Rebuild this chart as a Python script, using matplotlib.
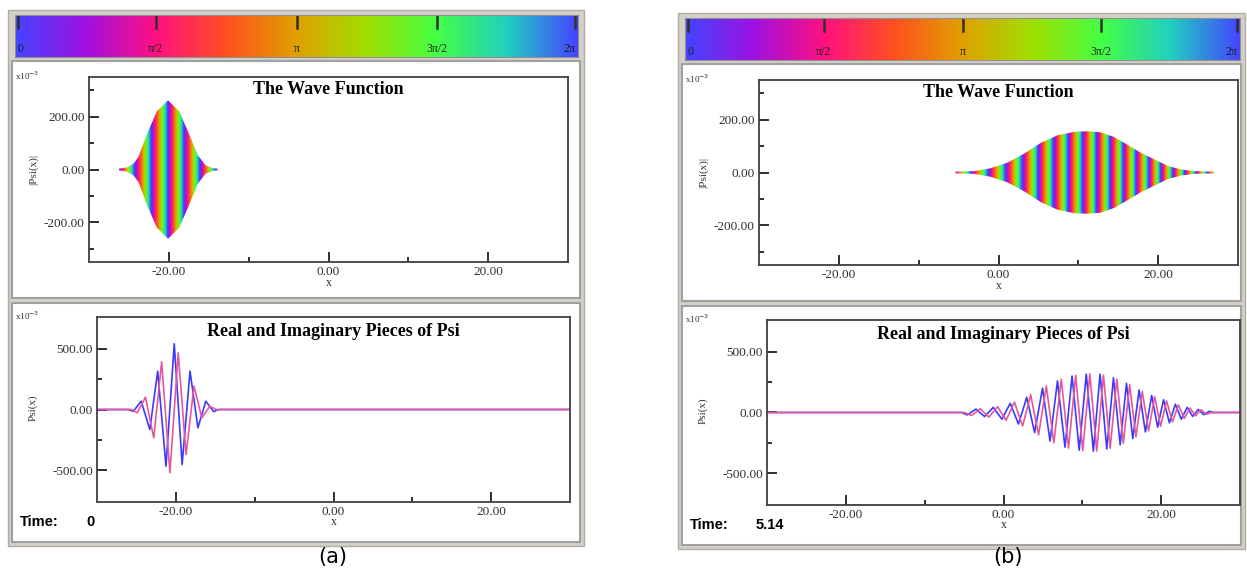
import numpy as np
import matplotlib.pyplot as plt
from matplotlib.colors import LinearSegmentedColormap
from matplotlib.patches import Rectangle, Polygon
from matplotlib.ticker import FormatStrFormatter

plt.rcParams['font.family'] = ['Liberation Serif', 'DejaVu Serif']
plt.rcParams['axes.unicode_minus'] = False

W, H = 1247, 578

# values, amplitudes in units of 1e-3
times = ['0', '5.14']
panel_names = ['(a)', '(b)']

# |Psi(x)| envelope of the top plots
env_a_x = [-26.3, -25.2, -24.4, -23.8, -22.7, -21.5, -20.1, -18.7, -17.5, -16.4, -15.4, -14.6, -13.9]
env_a_y = [3, 8, 23, 48, 137, 220, 262, 220, 137, 55, 16, 6, 3]
env_b_x = [-5.4, -3.1, -1.0, 1.1, 3.2, 5.3, 7.4, 9.5, 11.1, 12.8, 14.5, 16.1, 17.8, 19.5, 21.2, 22.8, 24.5, 27.0]
env_b_y = [3, 5, 16, 37, 71, 112, 141, 154, 156, 152, 134, 106, 75, 50, 25, 12, 5, 3]

# extrema of Re(Psi) (blue) and Im(Psi) (pink), bottom plots
re_a_x = [-30, -26.0, -25.4, -24.4, -23.3, -22.3, -21.25, -20.2, -19.2, -18.2, -17.2, -16.2, -15.2, -14.6, 30]
re_a_y = [0, 0, -15, 68, -164, 315, -466, 540, -452, 315, -150, 68, -18, 0, 0]
im_a_x = [-30, -25.6, -24.9, -23.85, -22.8, -21.8, -20.75, -19.7, -18.7, -17.7, -16.7, -15.7, -14.7, -14.2, 30]
im_a_y = [0, 0, -27, 101, -233, 392, -520, 466, -370, 192, -68, 25, -5, 0, 0]

re_b_x = [-30, -5.3, -4.6, -3.5, -2.4, -1.3, -0.2, 0.85, 1.9, 2.95, 3.95, 4.95, 5.9, 6.85, 7.8,
          8.7, 9.6, 10.5, 11.4, 12.25, 13.1, 13.95, 14.8, 15.6, 16.4, 17.2, 18.0, 18.8, 19.55,
          20.3, 21.05, 21.8, 22.55, 23.3, 24.0, 24.7, 25.4, 26.1, 26.6, 30]
re_b_y = [0, 0, -20, 28, -33, 42, -55, 75, -95, 125, -165, 200, -235, 260, -285,
          300, -310, 315, -318, 315, -300, 285, -265, 240, -215, 185, -160, 140, -120,
          105, -85, 68, -55, 42, -32, 25, -18, 10, 0, 0]
im_b_x = [-30, -5.0, -4.05, -2.95, -1.85, -0.75, 0.33, 1.38, 2.43, 3.45, 4.45, 5.43, 6.38, 7.33,
          8.25, 9.15, 10.05, 10.95, 11.83, 12.68, 13.53, 14.38, 15.2, 16.0, 16.8, 17.6, 18.4,
          19.18, 19.93, 20.68, 21.43, 22.18, 22.93, 23.65, 24.35, 25.05, 25.75, 26.4, 30]
im_b_y = [0, 0, -24, 30, -38, 48, -65, 85, -110, 145, -183, 218, -248, 273,
          -293, 305, -313, 317, -317, 308, -293, 275, -253, 228, -200, 173, -150,
          130, -113, 95, -77, 62, -48, 37, -28, 22, -14, 0, 0]

phase_ticks = ['0', 'π/2', 'π', '3π/2', '2π']
phase_colors = ['#4444ff', '#a010e0', '#ff1080', '#ff5020', '#e0a000',
                '#a0e000', '#44ff44', '#20d0c0', '#4444ff']
cmap = LinearSegmentedColormap.from_list('phase', phase_colors)

BLUE = '#3a3aff'
PINK = '#e6579b'
FRAME = '#d4d0c8'


def px_axes(fig, x0, y0, x1, y1):
    return fig.add_axes([x0 / W, 1 - y1 / H, (x1 - x0) / W, (y1 - y0) / H])


def phase_track(rx, ry, ix, iy):
    # phase anchors from the extrema: Re max=0, Im max=pi/2, Re min=pi, Im min=3pi/2
    pts = [(x, 0.0 if y > 0 else np.pi) for x, y in zip(rx, ry) if y != 0]
    pts += [(x, 0.5 * np.pi if y > 0 else 1.5 * np.pi) for x, y in zip(ix, iy) if y != 0]
    pts.sort()
    xs = [p[0] for p in pts]
    ph = [pts[0][1]]
    for k in range(1, len(pts)):
        ph.append(ph[-1] + (pts[k][1] - pts[k - 1][1]) % (2 * np.pi))
    return np.array(xs), np.array(ph)


def style_axes(ax, major_y, minor_y, lim):
    ax.set_xlim(-30, 30)
    ax.set_ylim(-lim, lim)
    ax.set_xticks([-20, 0, 20])
    ax.set_xticks([-10, 10], minor=True)
    ax.set_yticks(major_y)
    ax.set_yticks(minor_y, minor=True)
    ax.xaxis.set_major_formatter(FormatStrFormatter('%.2f'))
    ax.yaxis.set_major_formatter(FormatStrFormatter('%.2f'))
    ax.tick_params(which='both', direction='in', color='#303030', width=1.4,
                   labelsize=9.5, labelcolor='#303030', top=False, right=False)
    ax.tick_params(which='major', length=7.5, pad=3)
    ax.tick_params(which='minor', length=3.8)
    for s in ax.spines.values():
        s.set_color('#404040')
        s.set_linewidth(1.3)


fig = plt.figure(figsize=(W / 100, H / 100), dpi=100)
bg = fig.add_axes([0, 0, 1, 1])
bg.set_xlim(0, W)
bg.set_ylim(H, 0)
bg.axis('off')

panels = [
    (0, 0, env_a_x, env_a_y, re_a_x, re_a_y, im_a_x, im_a_y),
    (670, 3, env_b_x, env_b_y, re_b_x, re_b_y, im_b_x, im_b_y),
]

for i, (dx, dy, ex, ey, rx, ry, ix, iy) in enumerate(panels):
    right = min(584 + dx, W - 2)
    # window frames
    bg.add_patch(Rectangle((8 + dx, 10 + dy), right - 8 - dx, 536, fc=FRAME, ec='#b0aca4', lw=1))
    bg.add_patch(Rectangle((12 + dx, 61 + dy), right - 16 - dx, 237, fc='white', ec='#a0a0a0', lw=1.5))
    bg.add_patch(Rectangle((12 + dx, 303 + dy), right - 16 - dx, 239, fc='white', ec='#a0a0a0', lw=1.5))

    # phase colour bar
    cax = px_axes(fig, 15 + dx, 15 + dy, min(578 + dx, W - 7), 57 + dy)
    grad = np.linspace(0, 1, 512)[np.newaxis, :]
    cax.imshow(grad, cmap=cmap, aspect='auto', extent=[0, 2 * np.pi, 0, 1])
    cax.set_xlim(0, 2 * np.pi)
    cax.set_ylim(0, 1)
    cax.set_xticks([])
    cax.set_yticks([])
    for s in cax.spines.values():
        s.set_color('#909090')
    for k, lab in enumerate(phase_ticks):
        xp = min(max(k * np.pi / 2, 0.03), 2 * np.pi - 0.03)
        cax.plot([xp, xp], [1.0, 0.7], color='#303030', lw=1.8)
        ha = 'left' if k == 0 else ('right' if k == 4 else 'center')
        cax.text(xp, 0.2, lab, ha=ha, va='center', fontsize=8.5, color='#202020')

    # top: phase coloured |Psi|
    ax1 = px_axes(fig, 89 + dx, 77 + dy, 568 + dx, 262 + dy)
    xs, ph = phase_track(rx, ry, ix, iy)
    grid = np.linspace(ex[0], ex[-1], 900)
    pg = np.interp(grid, xs, ph)
    sl = (ph[1] - ph[0]) / (xs[1] - xs[0])
    sr = (ph[-1] - ph[-2]) / (xs[-1] - xs[-2])
    pg = np.where(grid < xs[0], ph[0] + sl * (grid - xs[0]), pg)
    pg = np.where(grid > xs[-1], ph[-1] + sr * (grid - xs[-1]), pg)
    img = cmap((pg % (2 * np.pi)) / (2 * np.pi))[np.newaxis, :, :]
    amax = max(ey)
    im = ax1.imshow(img, extent=[grid[0], grid[-1], -amax, amax], aspect='auto',
                    interpolation='bilinear')
    outline = Polygon(np.column_stack([ex + ex[::-1], list(ey) + [-v for v in ey[::-1]]]),
                      closed=True, fc='none', ec='none', transform=ax1.transData)
    ax1.add_patch(outline)
    im.set_clip_path(outline)
    style_axes(ax1, [-200, 0, 200], [-300, -100, 100, 300], 350)
    ax1.text(0.5, 0.93, 'The Wave Function', transform=ax1.transAxes, ha='center',
             va='center', fontsize=13, fontweight='bold')

    # bottom: real and imaginary parts
    ax2 = px_axes(fig, 97 + dx, 317 + dy, 570 + dx, 502 + dy)
    ax2.plot(rx, ry, color=BLUE, lw=1.2)
    ax2.plot(ix, iy, color=PINK, lw=1.2)
    style_axes(ax2, [-500, 0, 500], [-250, 250], 760)
    ax2.text(0.5, 0.92, 'Real and Imaginary Pieces of Psi', transform=ax2.transAxes,
             ha='center', va='center', fontsize=13, fontweight='bold')

    # labels
    bg.text(15 + dx, 76 + dy, 'x10$^{-3}$', fontsize=6.5, va='center', color='#303030')
    bg.text(15 + dx, 316 + dy, 'x10$^{-3}$', fontsize=6.5, va='center', color='#303030')
    bg.text(33 + dx, 169 + dy, '|Psi(x)|', rotation=90, fontsize=8, ha='center',
            va='center', color='#303030')
    bg.text(33 + dx, 408 + dy, 'Psi(x)', rotation=90, fontsize=8, ha='center',
            va='center', color='#303030')
    bg.text(329 + dx, 283 + dy, 'x', fontsize=8.5, ha='center', va='center', color='#303030')
    bg.text(334 + dx, 522 + dy, 'x', fontsize=8.5, ha='center', va='center', color='#303030')
    bg.text(20 + dx, 522 + dy, 'Time:', fontsize=10.5, fontweight='bold', va='center',
            family='Liberation Sans')
    bg.text(86 + dx, 522 + dy, times[i], fontsize=10.5, fontweight='bold', va='center',
            family='Liberation Sans')
    bg.text(333 + dx + 5 * i, 557, panel_names[i], fontsize=15, ha='center', va='center',
            family='DejaVu Sans')

fig.savefig('out.png', dpi=100)
